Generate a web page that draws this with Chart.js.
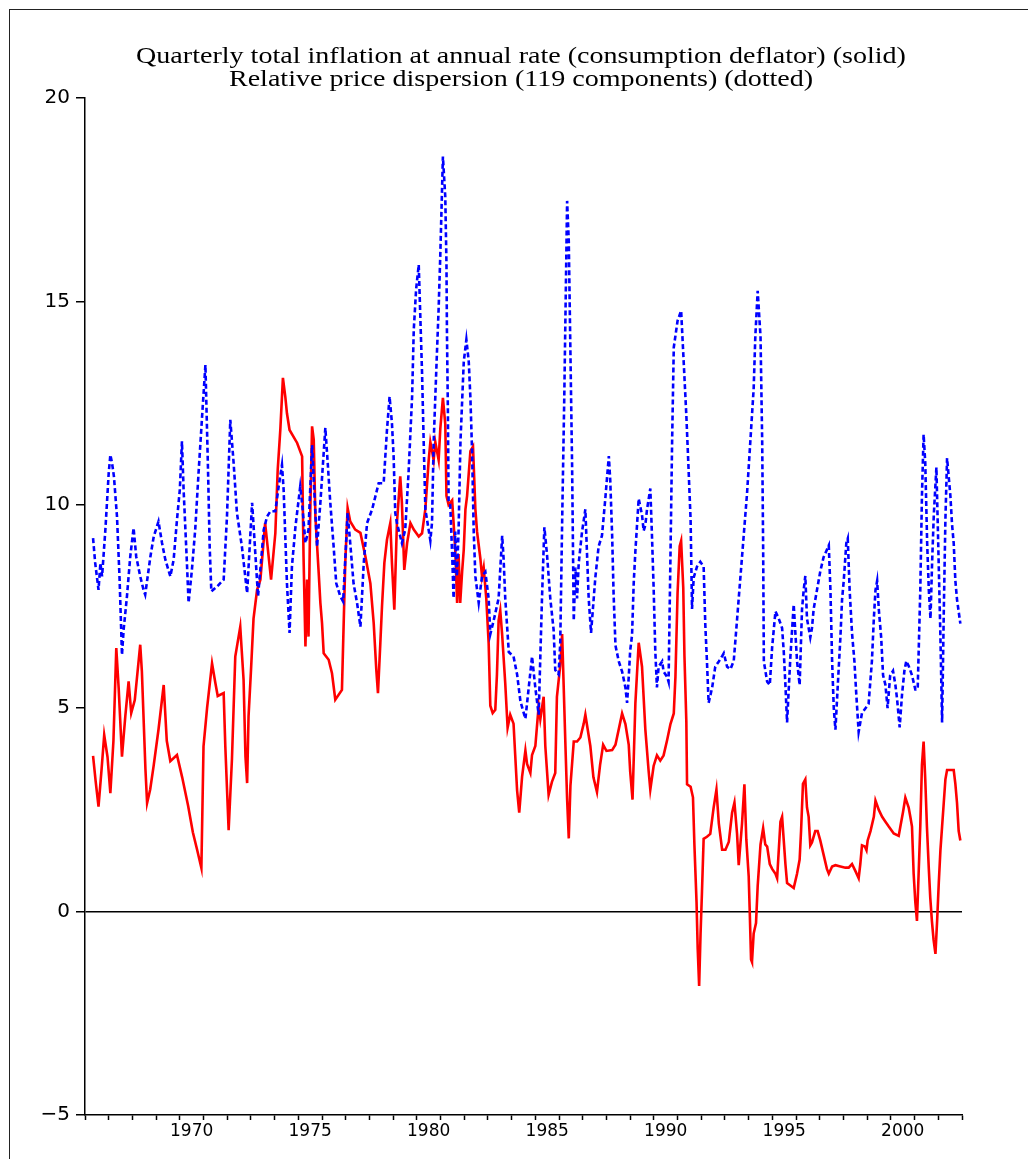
<!DOCTYPE html>
<html>
<head>
<meta charset="utf-8">
<script src="https://cdn.jsdelivr.net/npm/chart.js@4.4.1/dist/chart.umd.min.js"></script>
<style>
  html, body { margin: 0; padding: 0; background: #fff; }
  #wrap { position: relative; width: 1028px; height: 1159px; overflow: hidden; }
  #frame { position: absolute; left: 9px; top: 9px; width: 1100px; height: 1300px;
           border-left: 1.5px solid #222; border-top: 1.5px solid #222; }
  canvas { position: absolute; left: 0; top: 0; }
</style>
</head>
<body>
<div id="wrap">
  <div id="frame"></div>
  <canvas id="c" width="1028" height="1159"></canvas>
</div>
<script>
// ---- data: [year, value] ----
const titleLines = [
  "Quarterly total inflation at annual rate (consumption deflator) (solid)",
  "Relative price dispersion (119 components) (dotted)"
];
const yTickValues = [-5, 0, 5, 10, 15, 20];
const xLabelYears = [1970, 1975, 1980, 1985, 1990, 1995, 2000];
const xMin = 1966, xMax = 2003;

const inflationPoints = [
[1966.34,3.83],[1966.45,3.2],[1966.57,2.58],[1966.7,3.5],[1966.81,4.34],[1966.95,3.8],[1967.07,2.91],[1967.2,4.2],[1967.32,6.48],[1967.42,5.5],[1967.56,3.81],[1967.7,4.8],[1967.84,5.66],[1967.95,4.88],[1968.1,5.2],[1968.33,6.56],[1968.4,5.9],[1968.55,3.5],[1968.62,2.67],[1968.75,3.0],[1968.9,3.6],[1969.1,4.47],[1969.32,5.57],[1969.45,4.2],[1969.6,3.7],[1969.88,3.85],[1970.1,3.3],[1970.35,2.6],[1970.55,1.95],[1970.73,1.52],[1970.91,1.07],[1971.0,4.06],[1971.15,5.0],[1971.36,6.1],[1971.5,5.62],[1971.6,5.3],[1971.85,5.37],[1971.92,4.06],[1972.06,2.0],[1972.2,3.75],[1972.34,6.27],[1972.55,7.0],[1972.69,5.7],[1972.77,3.81],[1972.84,3.16],[1972.9,4.8],[1973.0,5.9],[1973.11,7.2],[1973.26,7.91],[1973.4,8.16],[1973.6,9.55],[1973.85,8.16],[1974.03,9.3],[1974.13,10.86],[1974.24,11.84],[1974.35,13.12],[1974.45,12.66],[1974.52,12.25],[1974.63,11.84],[1974.95,11.52],[1975.16,11.19],[1975.22,8.73],[1975.3,6.52],[1975.37,8.16],[1975.43,6.76],[1975.5,9.71],[1975.58,11.93],[1975.65,11.6],[1975.72,9.71],[1975.86,8.32],[1975.93,7.59],[1976.0,7.09],[1976.07,6.35],[1976.28,6.19],[1976.42,5.86],[1976.56,5.21],[1976.84,5.45],[1976.98,8.57],[1977.08,9.92],[1977.19,9.59],[1977.4,9.39],[1977.62,9.31],[1977.83,8.73],[1978.04,8.07],[1978.18,7.09],[1978.29,5.94],[1978.36,5.37],[1978.46,6.6],[1978.53,7.5],[1978.63,8.57],[1978.74,9.14],[1978.88,9.55],[1978.95,8.57],[1979.05,7.42],[1979.16,9.55],[1979.3,10.7],[1979.37,10.04],[1979.47,8.4],[1979.59,9.06],[1979.73,9.55],[1979.87,9.39],[1980.08,9.22],[1980.22,9.3],[1980.36,9.9],[1980.5,11.1],[1980.57,11.54],[1980.64,11.32],[1980.71,11.1],[1980.78,11.54],[1980.92,11.1],[1980.99,11.87],[1981.1,12.63],[1981.2,11.98],[1981.25,10.22],[1981.34,10.0],[1981.49,10.11],[1981.55,9.56],[1981.62,8.9],[1981.7,7.59],[1981.76,8.79],[1981.83,7.59],[1981.91,8.35],[1981.98,8.9],[1982.05,9.89],[1982.12,10.22],[1982.26,11.32],[1982.37,11.43],[1982.47,9.89],[1982.54,9.34],[1982.68,8.68],[1982.75,8.24],[1982.82,8.46],[1982.93,7.7],[1983.03,6.6],[1983.1,5.06],[1983.2,4.88],[1983.31,4.96],[1983.38,5.83],[1983.45,7.15],[1983.52,7.4],[1983.6,6.8],[1983.73,5.61],[1983.83,4.52],[1983.94,4.84],[1984.08,4.62],[1984.15,3.85],[1984.23,2.98],[1984.32,2.43],[1984.44,3.31],[1984.58,3.96],[1984.65,3.63],[1984.79,3.41],[1984.86,3.85],[1985.0,4.07],[1985.14,5.06],[1985.21,4.73],[1985.35,5.28],[1985.42,4.07],[1985.56,2.87],[1985.7,3.19],[1985.84,3.41],[1985.91,5.28],[1986.05,6.05],[1986.13,6.82],[1986.27,4.07],[1986.34,2.76],[1986.41,1.8],[1986.48,3.09],[1986.62,4.18],[1986.76,4.18],[1986.9,4.28],[1987.04,4.62],[1987.11,4.84],[1987.32,4.07],[1987.45,3.3],[1987.6,2.94],[1987.73,3.6],[1987.86,4.1],[1988.0,3.95],[1988.24,3.97],[1988.38,4.1],[1988.66,4.87],[1988.8,4.61],[1988.94,4.1],[1989.0,3.45],[1989.1,2.75],[1989.22,5.12],[1989.36,6.61],[1989.5,6.02],[1989.57,5.25],[1989.64,4.48],[1989.78,3.45],[1989.85,3.0],[1989.99,3.58],[1990.13,3.84],[1990.27,3.71],[1990.41,3.84],[1990.56,4.22],[1990.7,4.61],[1990.84,4.87],[1990.91,5.77],[1991.0,7.83],[1991.09,8.98],[1991.15,9.11],[1991.24,7.96],[1991.29,6.29],[1991.37,4.67],[1991.4,3.13],[1991.55,3.07],[1991.65,2.81],[1991.71,1.65],[1991.8,0.24],[1991.85,-0.92],[1991.91,-1.83],[1991.97,-0.54],[1992.03,0.49],[1992.1,1.79],[1992.24,1.84],[1992.38,1.91],[1992.52,2.55],[1992.64,3.0],[1992.74,2.17],[1992.88,1.52],[1993.02,1.52],[1993.16,1.71],[1993.3,2.43],[1993.4,2.68],[1993.51,1.91],[1993.58,1.14],[1993.72,2.17],[1993.82,3.13],[1993.9,1.78],[1994.0,0.88],[1994.04,0.1],[1994.1,-1.18],[1994.14,-1.24],[1994.21,-0.54],[1994.31,-0.28],[1994.38,0.63],[1994.5,1.65],[1994.61,2.05],[1994.7,1.65],[1994.78,1.6],[1994.89,1.17],[1994.99,1.05],[1995.13,0.93],[1995.2,0.82],[1995.27,1.51],[1995.34,2.21],[1995.41,2.33],[1995.48,1.75],[1995.55,1.17],[1995.62,0.7],[1995.76,0.64],[1995.9,0.58],[1996.04,0.93],[1996.15,1.28],[1996.21,1.98],[1996.29,3.14],[1996.39,3.25],[1996.46,2.56],[1996.53,2.33],[1996.6,1.63],[1996.67,1.7],[1996.81,1.98],[1996.91,1.98],[1997.02,1.75],[1997.16,1.4],[1997.3,1.05],[1997.38,0.93],[1997.52,1.11],[1997.66,1.14],[1997.87,1.11],[1998.08,1.08],[1998.22,1.08],[1998.36,1.17],[1998.5,1.0],[1998.64,0.82],[1998.71,1.17],[1998.78,1.63],[1998.9,1.6],[1998.97,1.51],[1999.02,1.75],[1999.14,1.98],[1999.28,2.33],[1999.35,2.73],[1999.49,2.5],[1999.63,2.33],[1999.77,2.21],[1999.91,2.09],[2000.12,1.92],[2000.33,1.86],[2000.4,2.09],[2000.51,2.44],[2000.61,2.8],[2000.75,2.56],[2000.82,2.33],[2000.89,2.09],[2000.96,0.93],[2001.03,0.24],[2001.1,-0.23],[2001.17,0.93],[2001.24,2.09],[2001.31,3.6],[2001.38,4.18],[2001.45,3.25],[2001.52,2.09],[2001.6,1.05],[2001.66,0.35],[2001.73,-0.23],[2001.8,-0.69],[2001.88,-1.04],[2001.95,-0.23],[2002.02,0.7],[2002.09,1.51],[2002.16,2.09],[2002.23,2.67],[2002.3,3.25],[2002.37,3.48],[2002.65,3.48],[2002.72,3.14],[2002.79,2.67],[2002.86,1.98],[2002.93,1.75]
];

const dispersionPoints = [
[1966.34,9.18],[1966.43,8.57],[1966.57,7.91],[1966.65,8.57],[1966.72,8.24],[1966.86,9.39],[1967.0,10.78],[1967.07,11.23],[1967.14,11.03],[1967.22,10.7],[1967.35,9.71],[1967.46,8.16],[1967.56,6.31],[1967.63,6.93],[1967.77,7.75],[1967.91,8.73],[1968.05,9.43],[1968.16,8.73],[1968.33,8.24],[1968.47,7.91],[1968.54,7.79],[1968.76,8.73],[1968.9,9.22],[1969.1,9.59],[1969.25,9.06],[1969.39,8.65],[1969.6,8.24],[1969.74,8.65],[1969.88,9.63],[1970.0,10.37],[1970.09,11.56],[1970.16,10.37],[1970.3,8.57],[1970.37,7.59],[1970.51,8.4],[1970.65,9.39],[1970.79,10.78],[1970.94,12.17],[1971.08,13.44],[1971.19,10.86],[1971.26,8.97],[1971.33,7.87],[1971.57,7.99],[1971.85,8.16],[1971.99,9.71],[1972.13,12.09],[1972.27,11.03],[1972.41,9.8],[1972.62,8.97],[1972.84,7.83],[1973.05,10.05],[1973.3,7.75],[1973.54,9.39],[1973.68,9.71],[1973.82,9.84],[1974.03,9.84],[1974.17,10.45],[1974.31,10.98],[1974.38,10.37],[1974.45,9.22],[1974.52,8.07],[1974.63,6.85],[1974.73,8.48],[1974.88,9.47],[1975.08,10.45],[1975.16,10.04],[1975.3,9.06],[1975.43,9.39],[1975.58,11.47],[1975.65,10.62],[1975.79,8.97],[1975.93,10.05],[1976.14,11.89],[1976.24,11.03],[1976.35,10.04],[1976.49,8.97],[1976.6,8.07],[1976.77,7.75],[1976.89,7.62],[1977.08,9.8],[1977.19,9.06],[1977.33,8.07],[1977.48,7.58],[1977.62,7.0],[1977.76,8.57],[1977.9,9.55],[1978.11,9.88],[1978.39,10.53],[1978.6,10.53],[1978.74,11.84],[1978.85,12.66],[1978.95,12.0],[1979.02,11.19],[1979.09,9.8],[1979.16,9.55],[1979.37,9.06],[1979.51,9.39],[1979.65,10.78],[1979.8,12.66],[1979.87,14.3],[1979.97,15.3],[1980.08,15.9],[1980.22,13.24],[1980.29,11.52],[1980.36,9.89],[1980.57,9.12],[1980.64,9.56],[1980.71,11.54],[1980.82,13.3],[1980.92,14.83],[1980.99,16.15],[1981.1,18.56],[1981.2,17.57],[1981.25,15.93],[1981.27,14.28],[1981.31,12.31],[1981.34,10.11],[1981.41,10.0],[1981.49,8.79],[1981.55,7.7],[1981.62,9.34],[1981.69,8.24],[1981.76,9.34],[1981.84,11.54],[1981.98,13.52],[1982.09,14.06],[1982.19,13.52],[1982.26,12.63],[1982.33,11.32],[1982.4,9.34],[1982.47,8.24],[1982.61,7.59],[1982.75,8.24],[1982.89,8.35],[1983.03,7.7],[1983.1,6.82],[1983.24,7.15],[1983.45,7.7],[1983.6,9.24],[1983.66,8.68],[1983.73,7.7],[1983.88,6.38],[1984.08,6.27],[1984.23,5.83],[1984.37,5.17],[1984.58,4.74],[1984.72,5.5],[1984.86,6.27],[1985.0,5.5],[1985.14,4.84],[1985.28,7.7],[1985.38,9.45],[1985.49,8.79],[1985.63,7.7],[1985.77,6.93],[1985.84,5.94],[1985.98,5.83],[1986.05,6.6],[1986.13,9.56],[1986.22,12.63],[1986.34,17.47],[1986.41,16.48],[1986.48,13.73],[1986.55,10.99],[1986.62,7.15],[1986.69,8.46],[1986.76,7.7],[1986.83,8.57],[1986.97,9.34],[1987.11,9.89],[1987.25,7.7],[1987.35,6.85],[1987.53,8.21],[1987.67,8.98],[1987.81,9.24],[1987.95,10.14],[1988.1,11.2],[1988.16,10.6],[1988.24,9.24],[1988.3,7.83],[1988.38,6.54],[1988.52,6.15],[1988.66,5.9],[1988.8,5.51],[1988.87,5.13],[1988.94,5.77],[1989.0,6.41],[1989.08,6.8],[1989.15,8.08],[1989.22,8.86],[1989.36,10.15],[1989.5,9.75],[1989.57,9.36],[1989.64,9.5],[1989.71,9.88],[1989.85,10.4],[1989.92,9.24],[1989.99,7.96],[1990.06,6.41],[1990.13,5.51],[1990.2,6.02],[1990.35,6.15],[1990.41,5.9],[1990.56,5.77],[1990.62,5.65],[1990.7,8.73],[1990.77,11.56],[1990.84,13.87],[1991.0,14.52],[1991.15,14.77],[1991.26,13.49],[1991.37,12.2],[1991.47,10.79],[1991.55,9.63],[1991.61,7.44],[1991.68,8.21],[1991.82,8.48],[1991.96,8.6],[1992.1,8.48],[1992.17,7.05],[1992.24,6.15],[1992.31,5.13],[1992.46,5.51],[1992.59,6.02],[1992.74,6.15],[1992.88,6.28],[1992.95,6.35],[1993.09,6.02],[1993.23,5.96],[1993.37,6.16],[1993.51,7.18],[1993.65,8.21],[1993.79,9.24],[1993.93,10.27],[1994.07,11.56],[1994.21,12.85],[1994.28,14.13],[1994.38,15.26],[1994.5,14.13],[1994.57,11.56],[1994.61,8.98],[1994.64,6.15],[1994.78,5.65],[1994.89,5.57],[1994.99,6.5],[1995.13,7.38],[1995.27,7.2],[1995.41,6.97],[1995.48,6.39],[1995.55,5.57],[1995.62,4.65],[1995.76,6.27],[1995.9,7.55],[1995.97,6.85],[1996.04,6.16],[1996.15,5.57],[1996.25,7.43],[1996.32,7.9],[1996.39,8.25],[1996.46,7.2],[1996.6,6.74],[1996.67,6.97],[1996.74,7.43],[1996.88,7.9],[1997.02,8.36],[1997.16,8.71],[1997.38,9.0],[1997.45,7.9],[1997.52,6.16],[1997.59,5.0],[1997.66,4.47],[1997.76,5.57],[1997.87,6.74],[1997.94,7.67],[1998.01,8.13],[1998.12,9.06],[1998.18,9.17],[1998.26,7.9],[1998.36,6.85],[1998.46,6.16],[1998.54,5.34],[1998.64,4.42],[1998.78,4.88],[1998.92,4.99],[1999.06,5.11],[1999.2,6.16],[1999.28,7.2],[1999.35,7.9],[1999.42,8.13],[1999.49,7.43],[1999.59,6.74],[1999.67,5.81],[1999.77,5.57],[1999.86,5.0],[1999.97,5.81],[2000.09,5.92],[2000.19,5.57],[2000.26,5.23],[2000.37,4.53],[2000.47,5.34],[2000.57,5.92],[2000.65,6.16],[2000.75,6.04],[2000.89,5.81],[2001.03,5.46],[2001.13,5.46],[2001.24,7.9],[2001.31,10.22],[2001.38,11.73],[2001.45,11.03],[2001.53,9.06],[2001.6,7.9],[2001.67,7.2],[2001.74,8.6],[2001.81,9.75],[2001.92,10.92],[2002.02,8.48],[2002.09,6.74],[2002.16,4.65],[2002.23,7.32],[2002.3,9.64],[2002.37,11.15],[2002.51,10.22],[2002.58,9.52],[2002.65,9.06],[2002.72,8.13],[2002.79,7.67],[2002.93,7.08]
];

const toXY = pts => pts.map(p => ({ x: p[0], y: p[1] }));

// x ticks: a mark at every year start, a label centred in each labelled year
function buildXTicks() {
  const t = [];
  for (let y = xMin; y <= xMax; y++) {
    t.push({ value: y });
    if (y < xMax) t.push({ value: y + 0.5 });
  }
  return t;
}

// Two-line serif title, drawn as canvas text (slightly wide face as in the original)
const titleStyle = { font: '23px "Liberation Serif"', stretch: 1.22, centerX: 521, lineY: [57, 80] };
const stretchedTitle = {
  id: 'stretchedTitle',
  afterDraw(chart) {
    const ctx = chart.ctx;
    ctx.save();
    ctx.font = titleStyle.font;
    ctx.fillStyle = '#000';
    ctx.textAlign = 'center';
    ctx.textBaseline = 'middle';
    titleLines.forEach((line, i) => {
      ctx.save();
      ctx.translate(titleStyle.centerX, titleStyle.lineY[i]);
      ctx.scale(titleStyle.stretch, 1);
      ctx.fillText(line, 0, 0);
      ctx.restore();
    });
    ctx.restore();
  }
};

new Chart(document.getElementById('c'), {
  type: 'line',
  data: {
    datasets: [
      { label: 'Relative price dispersion', data: toXY(dispersionPoints),
        borderColor: '#0000ff', borderWidth: 2.6, borderDash: [5, 3],
        pointRadius: 0, tension: 0, fill: false },
      { label: 'Inflation', data: toXY(inflationPoints),
        borderColor: '#ff0000', borderWidth: 2.6,
        pointRadius: 0, tension: 0, fill: false }
    ]
  },
  plugins: [stretchedTitle],
  options: {
    responsive: false,
    animation: false,
    layout: { padding: { top: 98, right: 66, bottom: 0, left: 0 } },
    plugins: {
      legend: { display: false },
      tooltip: { enabled: false },
      title: { display: false }
    },
    scales: {
      x: {
        type: 'linear', min: xMin, max: xMax,
        afterBuildTicks: s => { s.ticks = buildXTicks(); },
        afterFit: s => { s.height = 44; },
        border: { display: true, color: '#000', width: 1.5 },
        grid: {
          drawOnChartArea: false, drawTicks: true, tickLength: 5, tickWidth: 1.5,
          tickColor: c => (c.tick && Number.isInteger(c.tick.value)) ? '#000' : 'rgba(0,0,0,0)'
        },
        ticks: {
          autoSkip: false, maxRotation: 0, minRotation: 0, padding: 1,
          color: '#000', font: { family: 'DejaVu Sans', size: 17 },
          callback: v => {
            if (Number.isInteger(v)) return '';
            const yr = Math.floor(v);
            return xLabelYears.includes(yr) ? String(yr) : '';
          }
        }
      },
      y: {
        type: 'linear', min: -5, max: 20,
        afterBuildTicks: s => { s.ticks = yTickValues.map(v => ({ value: v })); },
        afterFit: s => { s.width = 85; },
        border: { display: true, color: '#000', width: 1.5 },
        grid: {
          drawOnChartArea: true, drawTicks: true, tickLength: 9, tickWidth: 1.5,
          tickColor: '#000', lineWidth: 1.5,
          color: c => (c.tick && c.tick.value === 0) ? '#000' : 'rgba(0,0,0,0)'
        },
        ticks: {
          padding: 6, color: '#000', font: { family: 'DejaVu Sans', size: 20 },
          callback: v => v < 0 ? '\u2212' + Math.abs(v) : String(v)
        }
      }
    }
  }
});
</script>
</body>
</html>
